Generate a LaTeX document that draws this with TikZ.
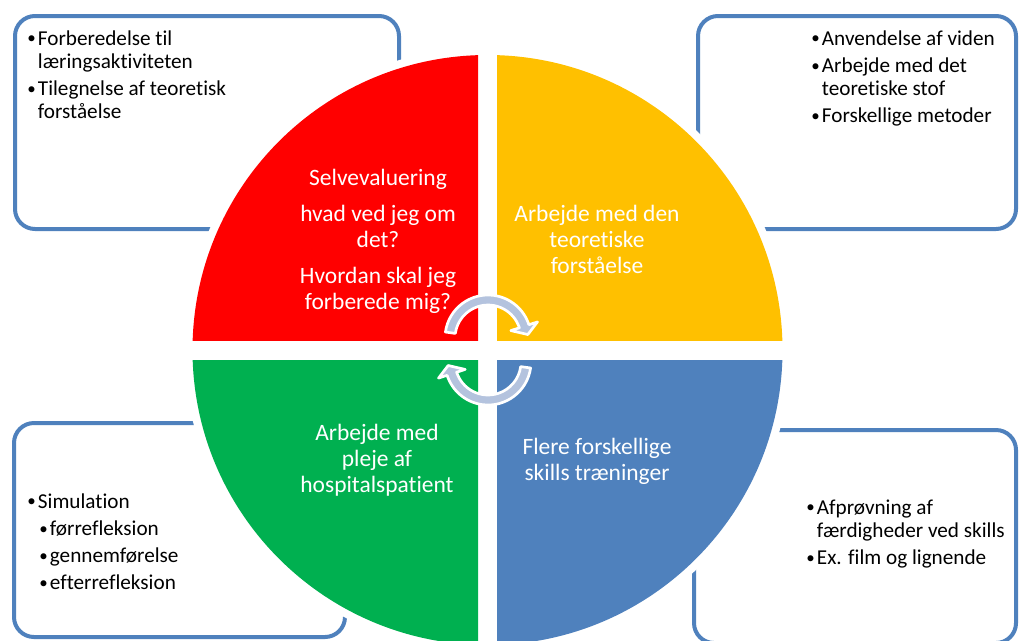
\documentclass[tikz,border=0pt]{standalone}
\usepackage{fontspec}
\usepackage{graphicx}
\setmainfont{Carlito}[Ligatures={NoCommon,NoContextual}]
\definecolor{qred}{HTML}{FF0000}
\definecolor{qyellow}{HTML}{FFC000}
\definecolor{qgreen}{HTML}{00B050}
\definecolor{qblue}{HTML}{4F81BD}
\definecolor{boxblue}{HTML}{4F81BD}
\definecolor{arrowblue}{HTML}{B4C3DE}
\newcommand\bul{\makebox[8pt][l]{\raisebox{0.9pt}{\scalebox{0.8}{•}}}}
\newcommand\ind{\hspace*{8pt}}
\begin{document}
\begin{tikzpicture}[x=0.75pt,y=0.75pt,
  infobox/.style={draw=boxblue,line width=3pt,fill=white,rounded corners=15pt},
  listtext/.style={inner sep=0pt,anchor=base west,text=black,font=\fontsize{15.9}{17.4}\selectfont},
  quadtext/.style={inner sep=0pt,anchor=base,text=white,font=\fontsize{17.6}{19.5}\selectfont},
  arrowshape/.style={fill=arrowblue,draw=white,line width=2pt,line join=round}]
\useasboundingbox (0,0) rectangle (1019,-640);
% boxes
\draw[infobox] (15,-16) rectangle (399,-229);
\draw[infobox] (698,-16) rectangle (1016,-229);
\draw[infobox] (14,-423) rectangle (345,-637);
\draw[infobox] (694,-430) rectangle (1016,-643);
% white halo round the circle
\coordinate (c) at (487.5,-350);
\fill[white] (c) circle[radius=303];
% quadrants
\begin{scope}
\clip (100,-340) rectangle (478,-40);
\fill[qred] (c) circle[radius=295];
\end{scope}
\begin{scope}
\clip (497,-340) rectangle (900,-40);
\fill[qyellow] (c) circle[radius=295];
\end{scope}
\begin{scope}
\clip (100,-360) rectangle (478,-700);
\fill[qgreen] (c) circle[radius=295];
\end{scope}
\begin{scope}
\clip (497,-360) rectangle (900,-700);
\fill[qblue] (c) circle[radius=295];
\end{scope}
% circular arrows
\begin{scope}[shift={(488,-338)}]
\path[arrowshape] (172:43) arc[start angle=172,end angle=18,radius=43]
  -- (18:52) -- (5:40) -- (18:24) -- (18:33)
  arc[start angle=18,end angle=172,radius=33] -- cycle;
\end{scope}
\begin{scope}[shift={(488,-362)}]
\path[arrowshape] (-8:43) arc[start angle=-8,end angle=-162,radius=43]
  -- (-162:52) -- (-175:40) -- (-162:24) -- (-162:33)
  arc[start angle=-162,end angle=-8,radius=33] -- cycle;
\end{scope}
% quadrant texts
\node[quadtext] (tred) at (378,-185) {\begin{tabular}[t]{@{}c@{}}Selvevaluering\\[7.5pt] hvad ved jeg om\\ det?\\[7.5pt] Hvordan skal jeg\\ forberede mig?\end{tabular}};
\node[quadtext] (tyellow) at (597,-221) {\begin{tabular}[t]{@{}c@{}}Arbejde med den\\ teoretiske\\ forståelse\end{tabular}};
\node[quadtext] (tgreen) at (377,-440) {\begin{tabular}[t]{@{}c@{}}Arbejde med\\ pleje af\\ hospitalspatient\end{tabular}};
\node[quadtext] (tblue) at (597,-454) {\begin{tabular}[t]{@{}c@{}}Flere forskellige\\ skills træninger\end{tabular}};
% list texts
\node[listtext] (ltl) at (27,-45) {\begin{tabular}[t]{@{}l@{}}\bul Forberedelse til\\ \ind læringsaktiviteten\\[3pt] \bul Tilegnelse af teoretisk\\ \ind forståelse\end{tabular}};
\node[listtext] (ltr) at (811,-45) {\begin{tabular}[t]{@{}l@{}}\bul Anvendelse af viden\\[3pt] \bul Arbejde med det\\ \ind teoretiske stof\\[3pt] \bul Forskellige metoder\end{tabular}};
\node[listtext] (lbl) at (27,-508) {\begin{tabular}[t]{@{}l@{}}\bul Simulation\\[3pt] \hspace*{9pt}\bul førrefleksion\\[3pt] \hspace*{9pt}\bul gennemførelse\\[3pt] \hspace*{9pt}\bul efterrefleksion\end{tabular}};
\node[listtext] (lbr) at (806,-514) {\begin{tabular}[t]{@{}l@{}}\bul Afprøvning af\\ \ind færdigheder ved skills\\[3pt] \bul Ex. film og lignende\end{tabular}};
\end{tikzpicture}
\end{document}
